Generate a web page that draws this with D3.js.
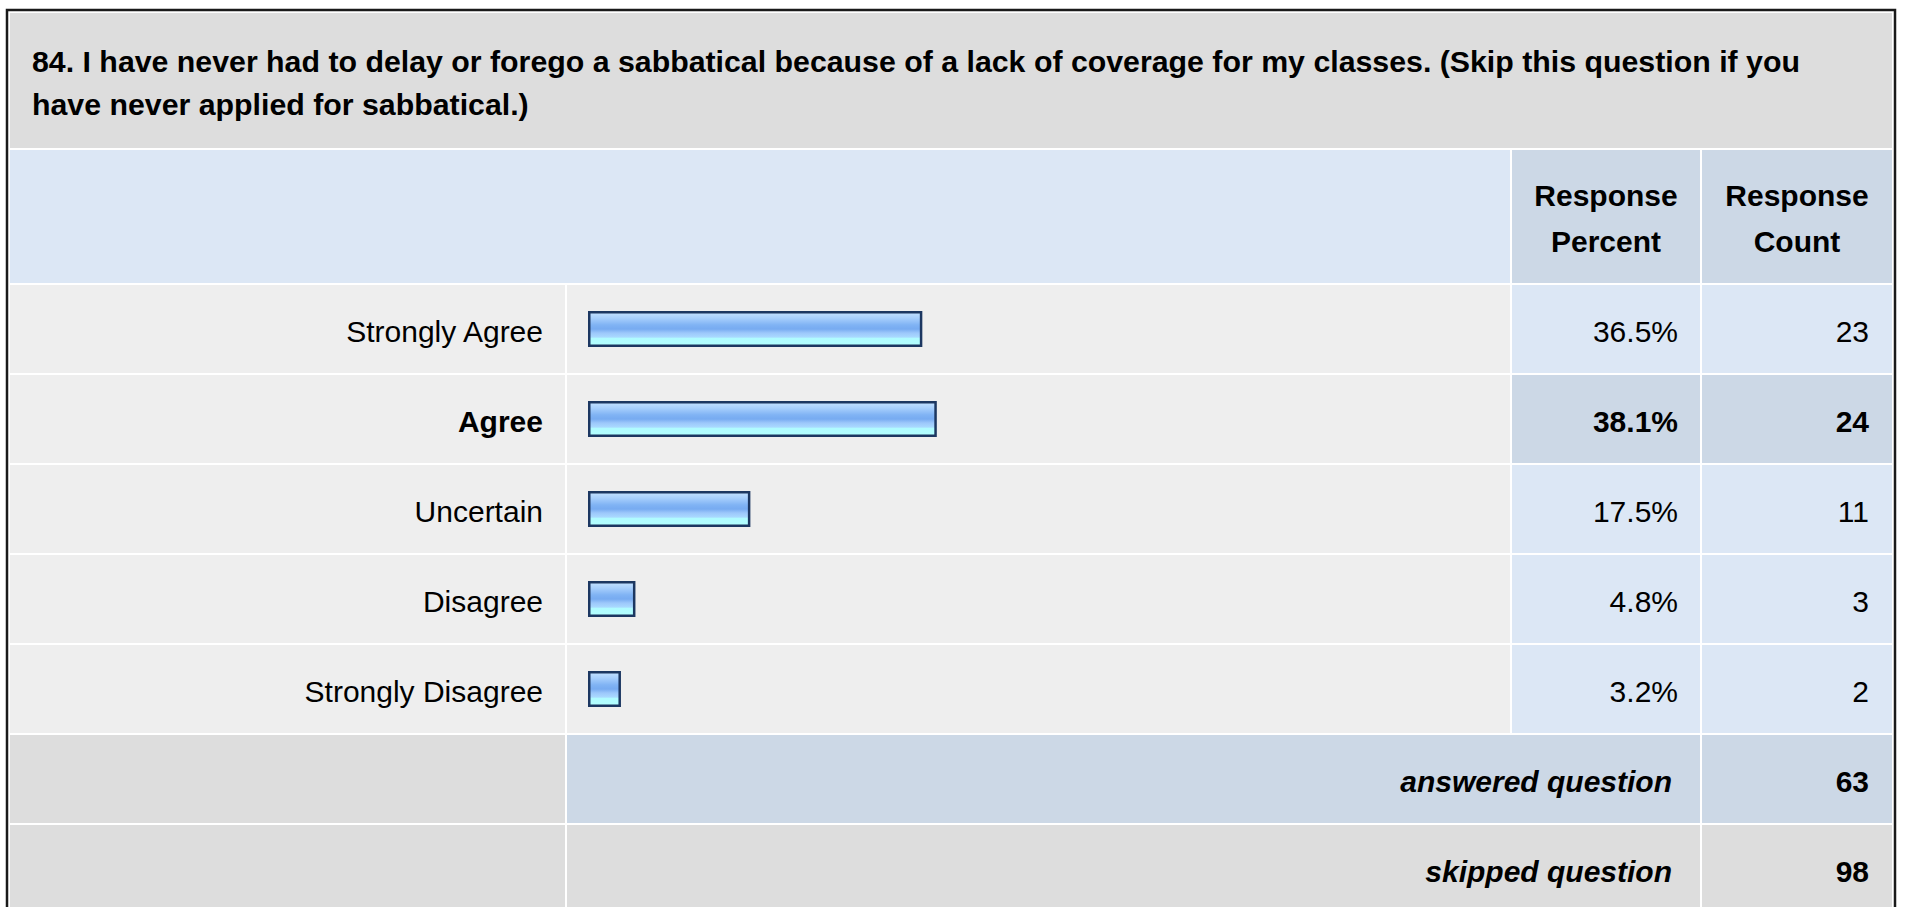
<!DOCTYPE html>
<html>
<head>
<meta charset="utf-8">
<script src="https://cdn.jsdelivr.net/npm/d3@7"></script>
<style>
  html, body { margin: 0; padding: 0; background: #ffffff; }
  svg { display: block; font-family: "Liberation Sans", Arial, sans-serif; }
</style>
</head>
<body>
<div id="chart"></div>
<script>
// ---------------- data ----------------
const titleLines = [
  "84. I have never had to delay or forego a sabbatical because of a lack of coverage for my classes. (Skip this question if you",
  "have never applied for sabbatical.)"
];
const headerPercent = ["Response", "Percent"];
const headerCount = ["Response", "Count"];
const categories = ["Strongly Agree", "Agree", "Uncertain", "Disagree", "Strongly Disagree"];
const percents = [36.5, 38.1, 17.5, 4.8, 3.2];
const counts = [23, 24, 11, 3, 2];
const highlighted = ["Agree"];
const summaryLabels = ["answered question", "skipped question"];
const summaryValues = [63, 98];

// ---------------- layout ----------------
const W = 1907, H = 907;
const svg = d3.select("#chart").append("svg").attr("width", W).attr("height", H);

const colX = { c1: 10, c1e: 565, c2: 567, c2e: 1510, c3: 1512, c3e: 1700, c4: 1702, c4e: 1892 };
const GRAY = "#dddddd", LIGHT = "#eeeeee", BLUE = "#dce7f5", BLUE2 = "#ccd8e6";

// outer frame
svg.append("rect").attr("x", 7).attr("y", 10).attr("width", 1888).attr("height", 920)
  .attr("fill", "#ffffff").attr("stroke", "#1a1a1a").attr("stroke-width", 2.5);

// title band
svg.append("rect").attr("x", colX.c1).attr("y", 13).attr("width", colX.c4e - colX.c1).attr("height", 135).attr("fill", GRAY);
svg.append("text").attr("x", 32).attr("y", 72)
  .attr("font-size", 30.3).attr("font-weight", "bold").attr("fill", "#000")
  .selectAll("tspan").data(titleLines).join("tspan")
  .attr("x", 32).attr("dy", (d, i) => i === 0 ? 0 : 43).text(d => d);

// header band
const hTop = 150, hBot = 283;
svg.append("rect").attr("x", colX.c1).attr("y", hTop).attr("width", colX.c2e - colX.c1).attr("height", hBot - hTop).attr("fill", BLUE);
svg.append("rect").attr("x", colX.c3).attr("y", hTop).attr("width", colX.c3e - colX.c3).attr("height", hBot - hTop).attr("fill", BLUE2);
svg.append("rect").attr("x", colX.c4).attr("y", hTop).attr("width", colX.c4e - colX.c4).attr("height", hBot - hTop).attr("fill", BLUE2);
[[headerPercent, (colX.c3 + colX.c3e) / 2], [headerCount, (colX.c4 + colX.c4e) / 2]].forEach(([lines, cx]) => {
  svg.append("text").attr("font-size", 30).attr("font-weight", "bold").attr("text-anchor", "middle").attr("fill", "#000")
    .selectAll("tspan").data(lines).join("tspan")
    .attr("x", cx).attr("y", (d, i) => 206 + i * 46).text(d => d);
});

// rows scale
const y = d3.scaleBand().domain(categories).range([284, 734]).padding(0);
const x = d3.scaleLinear().domain([0, 100]).range([0, 905]);

// gradient for bars
const defs = svg.append("defs");
const grad = defs.append("linearGradient").attr("id", "barGrad").attr("x1", 0).attr("y1", 0).attr("x2", 0).attr("y2", 1);
[[0, "#c4e2ff"], [0.18, "#a6cefc"], [0.38, "#80b3f4"], [0.5, "#77abf1"], [0.62, "#9dc8fb"], [0.74, "#a9d9ff"], [0.78, "#b0fbff"], [1, "#b2ffff"]]
  .forEach(([o, c]) => grad.append("stop").attr("offset", o).attr("stop-color", c));

const rows = svg.append("g").selectAll("g").data(categories).join("g")
  .attr("transform", d => `translate(0,${y(d) + 1})`);
const rh = y.bandwidth() - 2;
rows.append("rect").attr("x", colX.c1).attr("width", colX.c1e - colX.c1).attr("height", rh).attr("fill", LIGHT);
rows.append("rect").attr("x", colX.c2).attr("width", colX.c2e - colX.c2).attr("height", rh).attr("fill", LIGHT);
rows.append("rect").attr("x", colX.c3).attr("width", colX.c3e - colX.c3).attr("height", rh)
  .attr("fill", d => highlighted.includes(d) ? BLUE2 : BLUE);
rows.append("rect").attr("x", colX.c4).attr("width", colX.c4e - colX.c4).attr("height", rh)
  .attr("fill", d => highlighted.includes(d) ? BLUE2 : BLUE);

const fw = d => highlighted.includes(d) ? "bold" : "normal";
rows.append("text").attr("x", 543).attr("y", 57).attr("text-anchor", "end").attr("font-size", 30)
  .attr("font-weight", fw).attr("fill", "#000").text(d => d);
rows.append("rect").attr("x", 589.25).attr("y", 27.25)
  .attr("width", (d, i) => x(percents[i]) + 1.5).attr("height", 33.5)
  .attr("fill", "url(#barGrad)").attr("stroke", "#1c3761").attr("stroke-width", 2.5);
rows.append("text").attr("x", 1678).attr("y", 57).attr("text-anchor", "end").attr("font-size", 30)
  .attr("font-weight", fw).attr("fill", "#000").text((d, i) => percents[i].toFixed(1) + "%");
rows.append("text").attr("x", 1869).attr("y", 57).attr("text-anchor", "end").attr("font-size", 30)
  .attr("font-weight", fw).attr("fill", "#000").text((d, i) => counts[i]);

// summary rows
const ys = d3.scaleBand().domain(summaryLabels).range([734, 914]).padding(0);
const srows = svg.append("g").selectAll("g").data(summaryLabels).join("g")
  .attr("transform", d => `translate(0,${ys(d) + 1})`);
srows.append("rect").attr("x", colX.c1).attr("width", colX.c1e - colX.c1).attr("height", rh).attr("fill", GRAY);
srows.append("rect").attr("x", colX.c2).attr("width", colX.c3e - colX.c2).attr("height", rh)
  .attr("fill", (d, i) => i === 0 ? BLUE2 : GRAY);
srows.append("rect").attr("x", colX.c4).attr("width", colX.c4e - colX.c4).attr("height", rh)
  .attr("fill", (d, i) => i === 0 ? BLUE2 : GRAY);
srows.append("text").attr("x", 1672).attr("y", 57).attr("text-anchor", "end").attr("font-size", 30)
  .attr("font-weight", "bold").attr("font-style", "italic").attr("fill", "#000").text(d => d);
srows.append("text").attr("x", 1869).attr("y", 57).attr("text-anchor", "end").attr("font-size", 30)
  .attr("font-weight", "bold").attr("fill", "#000").text((d, i) => summaryValues[i]);
</script>
</body>
</html>
